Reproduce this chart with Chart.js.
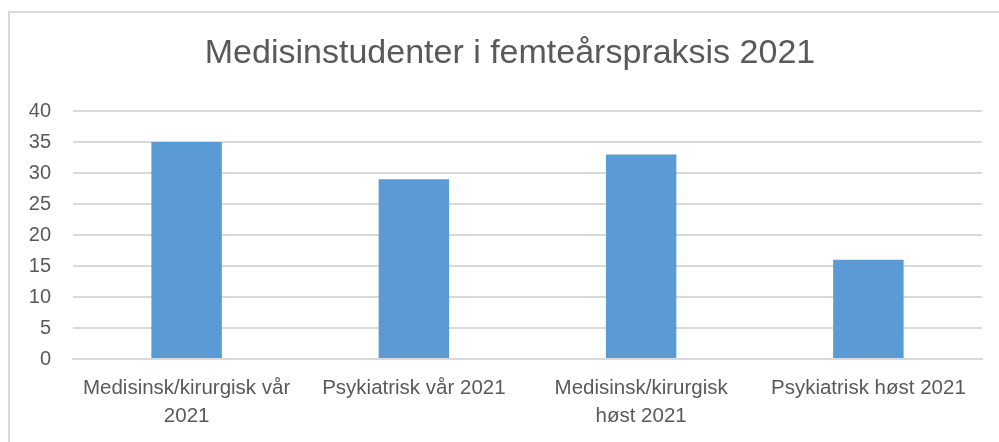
<!DOCTYPE html>
<html>
<head>
<meta charset="utf-8">
<script src="https://cdn.jsdelivr.net/npm/chart.js@4/dist/chart.umd.min.js"></script>
<style>
html,body{margin:0;padding:0;background:#fff;}
#wrap{position:relative;width:999px;height:442px;}
</style>
</head>
<body>
<div id="wrap"><canvas id="c" width="999" height="442"></canvas></div>
<script>
const categories = [["Medisinsk/kirurgisk vår","2021"],"Psykiatrisk vår 2021",["Medisinsk/kirurgisk","høst 2021"],"Psykiatrisk høst 2021"];
const values = [35, 29, 33, 16];
const yTicks = [0,5,10,15,20,25,30,35,40];
const titleText = "Medisinstudenter i femteårspraksis 2021";

const FONT = "'Liberation Sans', sans-serif";

const framePlugin = {
  id: 'frame',
  beforeDraw(chart){
    const ctx = chart.ctx;
    ctx.save();
    ctx.strokeStyle = '#d9d9d9';
    ctx.lineWidth = 2;
    ctx.beginPath();
    ctx.moveTo(9, 460);
    ctx.lineTo(9, 12);
    ctx.lineTo(1010, 12);
    ctx.stroke();
    ctx.fillStyle = '#595959';
    ctx.font = "34px " + FONT;
    ctx.textAlign = 'center';
    ctx.textBaseline = 'middle';
    ctx.fillText(titleText, 510, 54);
    ctx.restore();
  }
};

new Chart(document.getElementById('c'), {
  type: 'bar',
  data: {
    labels: categories,
    datasets: [{
      data: values,
      backgroundColor: '#5b9bd5',
      borderWidth: 0,
      barPercentage: 0.31,
      categoryPercentage: 1.0
    }]
  },
  options: {
    responsive: false,
    animation: false,
    layout: { padding: { left: 10, right: 17, top: 111, bottom: 0 } },
    plugins: {
      legend: { display: false },
      tooltip: { enabled: false },
      title: { display: false }
    },
    scales: {
      y: {
        min: 0, max: 40,
        afterBuildTicks(scale){ scale.ticks = yTicks.map(v => ({value: v})); },
        afterFit(scale){ scale.width = 63; },
        border: { display: false },
        grid: { color: '#d9d9d9', lineWidth: 2, drawTicks: false },
        ticks: { color: '#595959', padding: 22, font: { family: FONT, size: 20 } }
      },
      x: {
        afterFit(scale){ scale.height = 83; },
        border: { display: true, color: '#d9d9d9', width: 2 },
        grid: { display: false, drawTicks: false },
        ticks: { color: '#595959', padding: 15, maxRotation: 0, autoSkip: false, font: { family: FONT, size: 20.5, lineHeight: 1.38 } }
      }
    }
  },
  plugins: [framePlugin]
});
</script>
</body>
</html>
